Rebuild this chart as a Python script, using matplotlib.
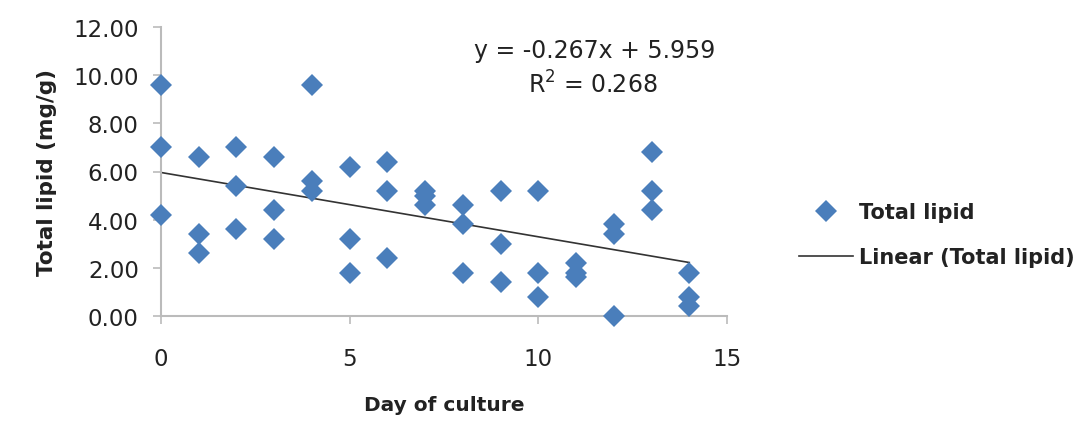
import matplotlib
matplotlib.use("Agg")
import matplotlib.pyplot as plt
import numpy as np

days = [0, 0, 0, 1, 1, 1, 2, 2, 2, 3, 3, 3, 4, 4, 4,
        5, 5, 5, 6, 6, 6, 7, 7, 7, 8, 8, 8, 9, 9, 9,
        10, 10, 10, 11, 11, 11, 12, 12, 12, 13, 13, 13, 14, 14, 14]
lipid = [9.6, 7.0, 4.2, 6.6, 3.4, 2.6, 7.0, 5.4, 3.6, 6.6, 4.4, 3.2, 9.6, 5.6, 5.2,
         6.2, 3.2, 1.8, 6.4, 5.2, 2.4, 5.2, 5.0, 4.6, 4.6, 3.8, 1.8, 5.2, 3.0, 1.4,
         5.2, 1.8, 0.8, 2.2, 1.8, 1.6, 3.8, 3.4, 0.0, 6.8, 5.2, 4.4, 1.8, 0.8, 0.4]
slope = -0.267
intercept = 5.959
r2 = 0.268
xticks = [0, 5, 10, 15]
yticks = [0, 2, 4, 6, 8, 10, 12]

plt.rcParams['font.family'] = ['DejaVu Sans']
fig = plt.figure(figsize=(10.76, 4.27), dpi=100)
ax = fig.add_axes([161/1076, 1-317/427, (727-161)/1076, (317-28)/427])

ax.plot(days, lipid, linestyle='none', marker='D', ms=11.5, color='#4a7ebb',
        markeredgewidth=0, label='Total lipid', zorder=3, clip_on=False)
tx = np.array([min(days), max(days)])
ax.plot(tx, slope*tx + intercept, color='#333333', lw=1.2, label='Linear (Total lipid)', zorder=2)

ax.set_xlim(0, 15)
ax.set_ylim(0, 12)
ax.set_xticks(xticks)
ax.set_yticks(yticks)
ax.set_yticklabels([f"{v:.2f}" for v in yticks])
for s in ['top', 'right']:
    ax.spines[s].set_visible(False)
for s in ['left', 'bottom']:
    ax.spines[s].set_color('#bbbbbb')
    ax.spines[s].set_linewidth(1.5)
ax.tick_params(axis='both', colors='#bbbbbb', labelcolor='#222222', labelsize=16.5, width=1.2, length=6)
ax.tick_params(axis='x', pad=16)
ax.tick_params(axis='y', pad=10)

ax.set_xlabel('Day of culture', fontsize=14.5, fontweight='bold', color='#222222', labelpad=18)
ax.set_ylabel('Total lipid (mg/g)', fontsize=15.5, fontweight='bold', color='#222222', labelpad=12)

ax.text(595/1076, 1-51/427, f"y = {slope:.3f}x + {intercept:.3f}", transform=fig.transFigure,
        ha='center', va='center', fontsize=17, color='#222222')
ax.text(593/1076, 1-85/427, f"R$^2$ = {r2:.3f}", transform=fig.transFigure,
        ha='center', va='center', fontsize=17, color='#222222')

leg = fig.legend(loc='center left', bbox_to_anchor=(780/1076, 1-236/427), frameon=False,
                 prop={'size': 15, 'weight': 'bold'}, handlelength=2.6, handletextpad=0.3,
                 labelspacing=1.2)
for t in leg.get_texts():
    t.set_color('#222222')

fig.savefig('out.png', dpi=100)
